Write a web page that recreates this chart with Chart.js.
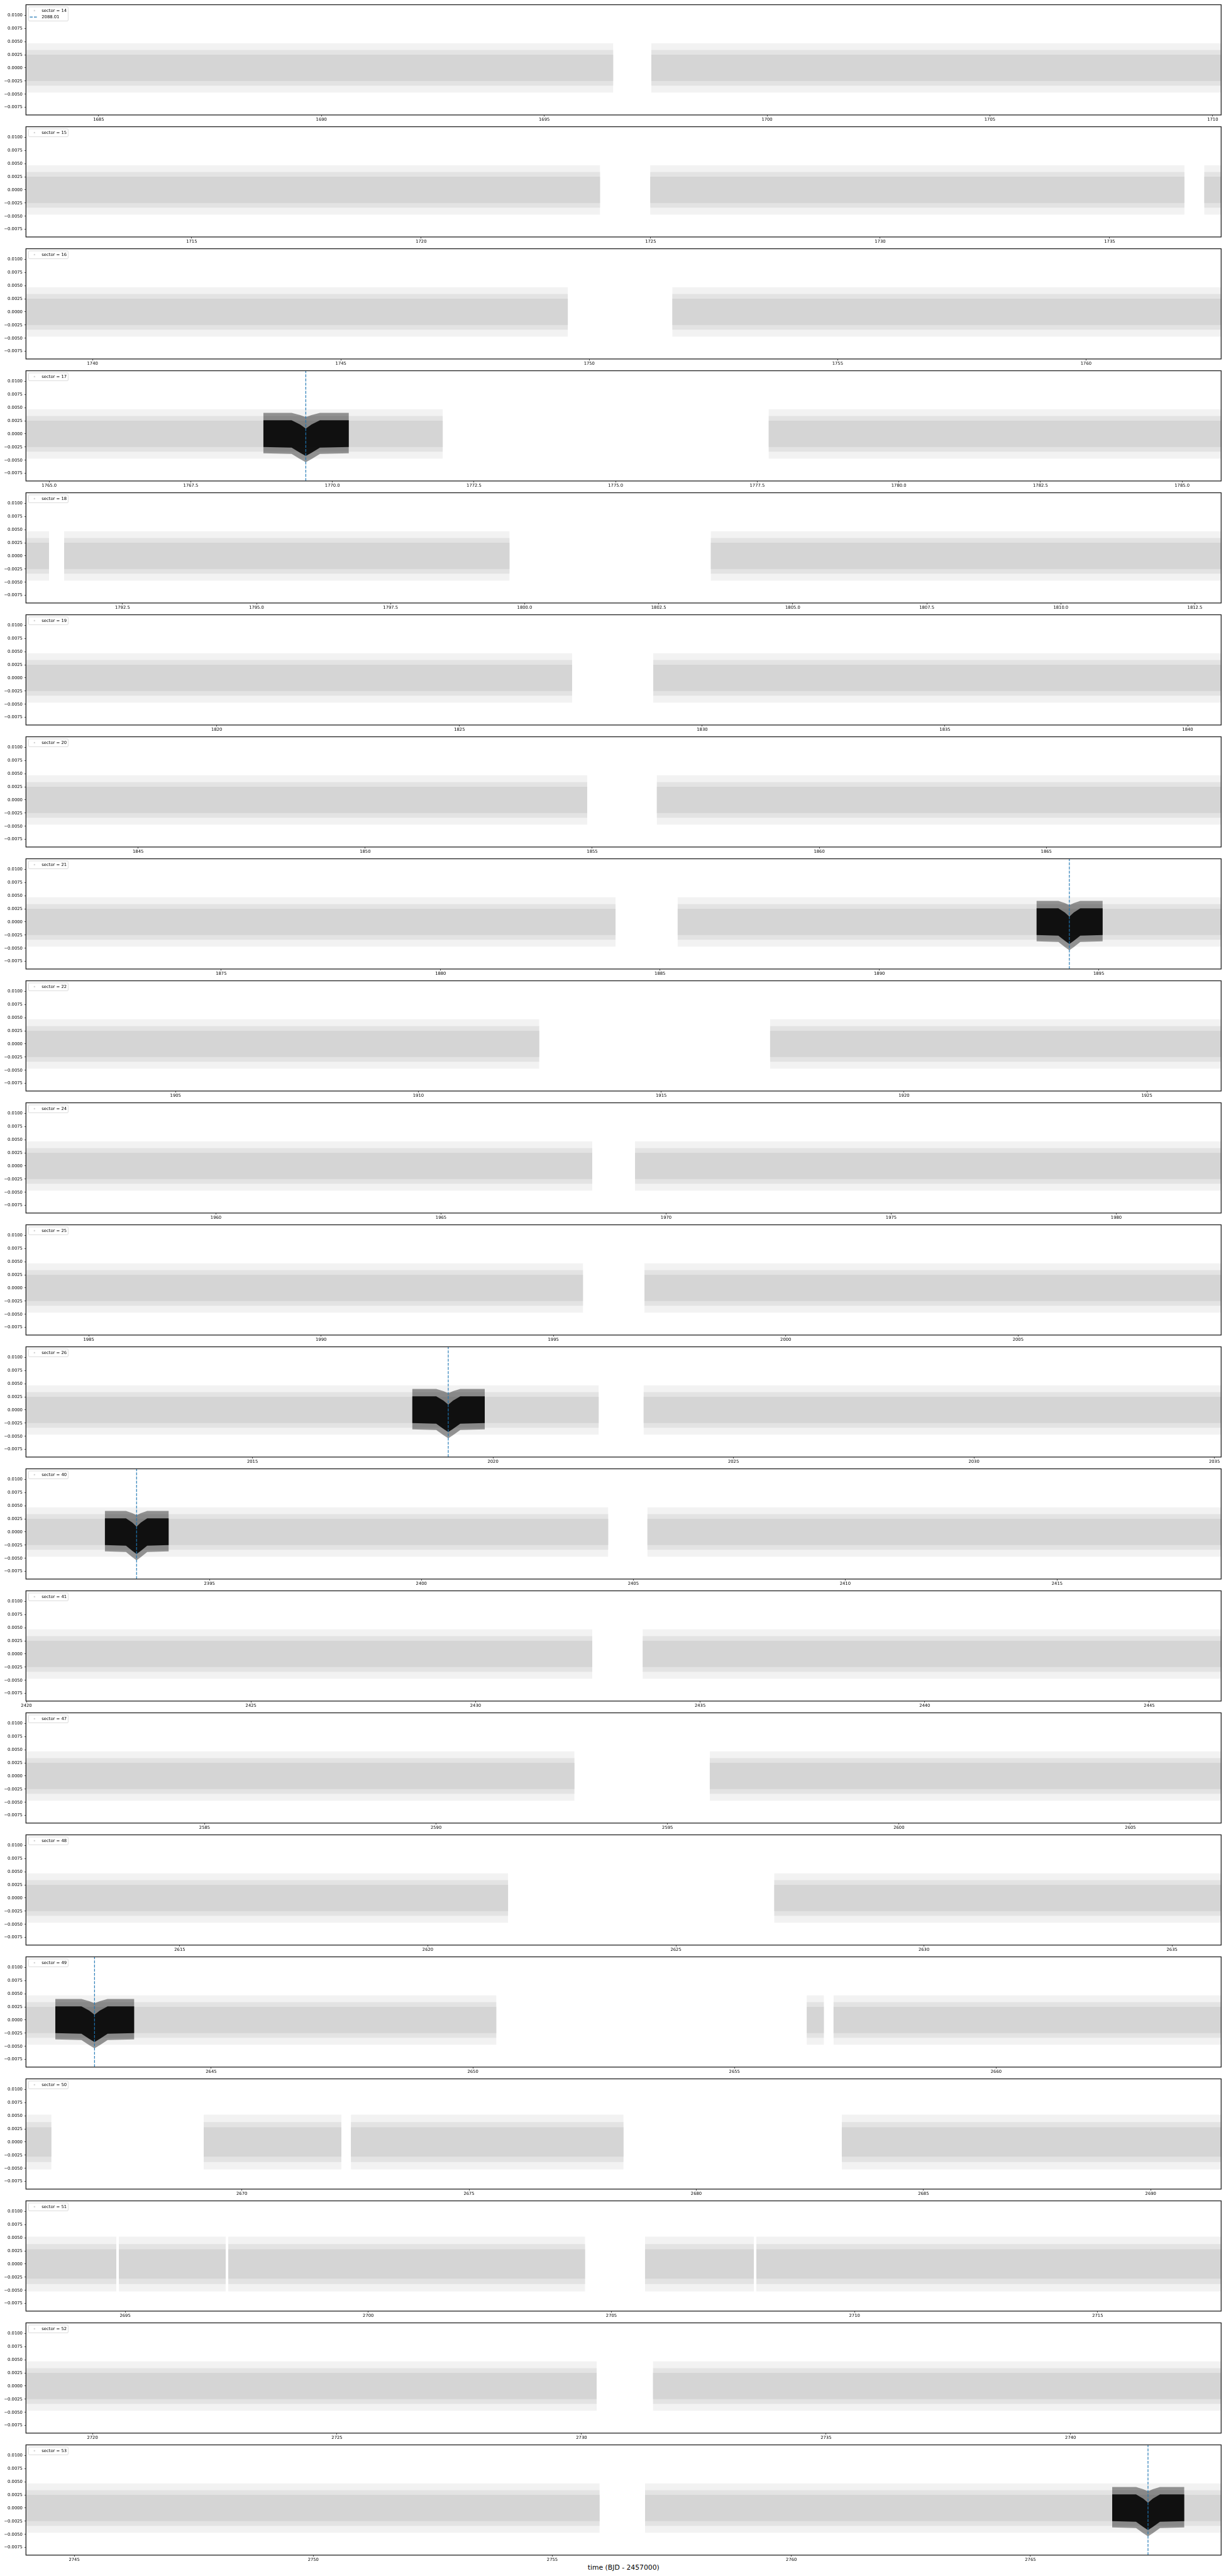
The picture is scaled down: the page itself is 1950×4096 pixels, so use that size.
<!DOCTYPE html>
<html>
<head>
<meta charset="utf-8">
<script src="https://cdn.jsdelivr.net/npm/chart.js@4.4.1/dist/chart.umd.min.js"></script>
<style>
html,body{margin:0;padding:0;background:#fff;}
#wrap{position:relative;width:1950px;height:4096px;overflow:hidden;background:#fff;}
#wrap canvas{position:absolute;left:0;}
#xlabel{position:absolute;left:991.8px;top:4082px;transform:translate(-50%,-50%);font-family:"DejaVu Sans";font-size:10.8px;color:#000;white-space:nowrap;}
</style>
</head>
<body>
<div id="wrap"><div id="xlabel">time (BJD - 2457000)</div></div>
<script>
// ---------------- data ----------------
const sectors = [14,15,16,17,18,19,20,21,22,24,25,26,40,41,47,48,49,50,51,52,53];
const candidateLabel = '2088.01';

const xMins = [1683.37,1711.39,1738.66,1764.59,1790.70,1816.07,1842.53,1870.55,1901.92,1955.78,1983.65,2010.29,2390.67,2419.99,2581.14,2611.90,2641.46,2665.25,2692.96,2718.64,2743.99];
const xMaxs = [1710.19,1737.43,1762.72,1785.69,1812.99,1840.69,1868.85,1897.79,1926.53,1982.33,2009.37,2035.14,2418.87,2446.60,2606.96,2635.99,2664.30,2691.55,2717.54,2743.08,2768.99];

const xTicks = [
  [1685,1690,1695,1700,1705,1710],
  [1715,1720,1725,1730,1735],
  [1740,1745,1750,1755,1760],
  [1765,1767.5,1770,1772.5,1775,1777.5,1780,1782.5,1785],
  [1792.5,1795,1797.5,1800,1802.5,1805,1807.5,1810,1812.5],
  [1820,1825,1830,1835,1840],
  [1845,1850,1855,1860,1865],
  [1875,1880,1885,1890,1895],
  [1905,1910,1915,1920,1925],
  [1960,1965,1970,1975,1980],
  [1985,1990,1995,2000,2005],
  [2015,2020,2025,2030,2035],
  [2395,2400,2405,2410,2415],
  [2420,2425,2430,2435,2440,2445],
  [2585,2590,2595,2600,2605],
  [2615,2620,2625,2630,2635],
  [2645,2650,2655,2660],
  [2670,2675,2680,2685,2690],
  [2695,2700,2705,2710,2715],
  [2720,2725,2730,2735,2740],
  [2745,2750,2755,2760,2765]
];
const xTickDecimals = [0,0,0,1,1,0,0,0,0,0,0,0,0,0,0,0,0,0,0,0,0];

const yMin = -0.00896, yMax = 0.01203;
const yTickValues = [0.0100,0.0075,0.0050,0.0025,0.0000,-0.0025,-0.0050,-0.0075];
const yTickLabels = ['0.0100','0.0075','0.0050','0.0025','0.0000','\u22120.0025','\u22120.0050','\u22120.0075'];

// time ranges covered by data in each sector
const dataSegments = [
  [[1683.37,1696.55],[1697.40,1710.19]],
  [[1711.39,1723.90],[1724.99,1736.63],[1737.06,1737.43]],
  [[1738.66,1749.57],[1751.67,1762.72]],
  [[1764.59,1771.95],[1777.70,1785.69]],
  [[1790.70,1791.13],[1791.41,1799.72],[1803.47,1812.99]],
  [[1816.07,1827.32],[1828.99,1840.69]],
  [[1842.53,1854.89],[1856.42,1868.85]],
  [[1870.55,1883.99],[1885.40,1897.79]],
  [[1901.92,1912.49],[1917.24,1926.53]],
  [[1955.78,1968.36],[1969.31,1982.33]],
  [[1983.65,1995.64],[1996.96,2009.37]],
  [[2010.29,2022.20],[2023.13,2035.14]],
  [[2390.67,2404.41],[2405.33,2418.87]],
  [[2419.99,2432.60],[2433.72,2446.60]],
  [[2581.14,2592.99],[2595.91,2606.96]],
  [[2611.90,2621.62],[2626.98,2635.99]],
  [[2641.46,2650.45],[2656.38,2656.71],[2656.89,2664.30]],
  [[2665.25,2665.81],[2669.16,2672.19],[2672.40,2678.40],[2683.20,2691.55]],
  [[2692.96,2694.82],[2694.87,2697.07],[2697.12,2704.46],[2705.69,2707.93],[2707.98,2717.54]],
  [[2718.64,2730.31],[2731.46,2743.08]],
  [[2743.99,2755.99],[2756.94,2768.99]]
];

// half-widths of the grey point cloud (dense core, mid, sparse outliers)
const grayCoreHalf  = [0.0025,0.0025,0.0025,0.0025,0.0025,0.0025,0.0025,0.0025,0.0025,0.0025,0.0025,0.0025,0.0025,0.0025,0.0025,0.0025,0.0025,0.0028,0.0028,0.0025,0.0025];
const grayMidHalf   = [0.0034,0.0034,0.0034,0.0034,0.0034,0.0034,0.0034,0.0034,0.0034,0.0034,0.0034,0.0034,0.0034,0.0034,0.0034,0.0034,0.0034,0.0038,0.0038,0.0034,0.0034];
const grayOuterHalf = [0.0047,0.0047,0.0047,0.0047,0.0047,0.0047,0.0047,0.0047,0.0047,0.0047,0.0047,0.0047,0.0047,0.0047,0.0047,0.0047,0.0047,0.0052,0.0052,0.0047,0.0047];

// transits of 2088.01 (null where no transit in the sector)
const transitTimes = [null,null,null,1769.53,null,null,null,1894.33,null,null,null,2019.07,2393.28,null,null,null,2642.77,null,null,null,2767.46];
// shape of the black in-transit point cloud (days from mid-transit)
const transitOffsets   = [-0.75,-0.25,-0.10,0.00,0.10,0.25,0.76];
const blackCoreUpper   = [0.0026,0.0026,0.0018,0.0010,0.0018,0.0026,0.0026];
const blackCoreLower   = [-0.0025,-0.0026,-0.0036,-0.0042,-0.0036,-0.0026,-0.0025];
const blackOuterUpper  = [0.0040,0.0040,0.0036,0.0032,0.0036,0.0040,0.0040];
const blackOuterLower  = [-0.0037,-0.0038,-0.0048,-0.0054,-0.0048,-0.0038,-0.0037];

// ---------------- drawing ----------------
const FONT = 'DejaVu Sans';
const PANEL_H = 194;
const TRANSPARENT = 'rgba(0,0,0,0)';

function bandPair(ptsUpper, ptsLower, color, order) {
  return [
    {data: ptsUpper, fill: '+1', backgroundColor: color, borderColor: TRANSPARENT, borderWidth: 0, pointRadius: 0, order},
    {data: ptsLower, fill: false, backgroundColor: TRANSPARENT, borderColor: TRANSPARENT, borderWidth: 0, pointRadius: 0, order}
  ];
}

const framePlugin = {
  id: 'frame',
  afterDatasetsDraw(chart) {
    const a = chart.chartArea, ctx = chart.ctx;
    ctx.save();
    ctx.strokeStyle = '#222';
    ctx.lineWidth = 1.3;
    ctx.setLineDash([]);
    ctx.strokeRect(a.left, a.top, a.right - a.left, a.bottom - a.top);
    ctx.restore();
  }
};

const legendPlugin = {
  id: 'mplLegend',
  afterDraw(chart, args, opts) {
    const entries = opts.entries || [];
    if (!entries.length) return;
    const a = chart.chartArea, ctx = chart.ctx;
    const bx = a.left + 4.1, by = a.top + 3.4, bw = 63;
    const bh = entries.length === 1 ? 12.4 : 22.4;
    ctx.save();
    ctx.beginPath();
    if (ctx.roundRect) ctx.roundRect(bx, by, bw, bh, 1.4); else ctx.rect(bx, by, bw, bh);
    ctx.fillStyle = 'rgba(255,255,255,0.8)';
    ctx.fill();
    ctx.strokeStyle = '#cccccc';
    ctx.lineWidth = 0.7;
    ctx.stroke();
    entries.forEach((e, k) => {
      const cy = by + 6.0 + k * 10.2;
      if (e.type === 'dot') {
        ctx.beginPath();
        ctx.fillStyle = '#d3d3d3';
        ctx.arc(a.left + 13.5, cy, 1.2, 0, Math.PI * 2);
        ctx.fill();
      } else {
        ctx.beginPath();
        ctx.strokeStyle = '#1f77b4';
        ctx.lineWidth = 1.15;
        ctx.setLineDash([4.6, 2.0]);
        ctx.moveTo(a.left + 6.1, cy);
        ctx.lineTo(a.left + 17.6, cy);
        ctx.stroke();
        ctx.setLineDash([]);
      }
      ctx.fillStyle = '#000';
      ctx.font = '6.8px "' + FONT + '"';
      ctx.textBaseline = 'middle';
      ctx.textAlign = 'left';
      ctx.fillText(e.label, a.left + 25, cy + 0.3);
    });
    ctx.restore();
  }
};

const wrap = document.getElementById('wrap');
sectors.forEach((sector, i) => {
  const isLast = i === sectors.length - 1;
  const cv = document.createElement('canvas');
  const h = isLast ? 4096 - i * PANEL_H : PANEL_H;
  cv.width = 1950; cv.height = h;
  cv.style.width = '1950px'; cv.style.height = h + 'px';
  cv.style.top = (i * PANEL_H) + 'px';
  wrap.appendChild(cv);

  const datasets = [];
  const t = transitTimes[i];
  if (t !== null) {
    datasets.push({data: [{x: t, y: yMin}, {x: t, y: yMax}], fill: false, borderColor: '#1f77b4', borderWidth: 1.15, borderDash: [4.6, 2.0], pointRadius: 0, order: 0});
    datasets.push(...bandPair(
      transitOffsets.map((o, k) => ({x: t + o, y: blackCoreUpper[k]})),
      transitOffsets.map((o, k) => ({x: t + o, y: blackCoreLower[k]})),
      'rgba(0,0,0,0.88)', 1));
    datasets.push(...bandPair(
      transitOffsets.map((o, k) => ({x: t + o, y: blackOuterUpper[k]})),
      transitOffsets.map((o, k) => ({x: t + o, y: blackOuterLower[k]})),
      'rgba(0,0,0,0.40)', 2));
  }
  const layers = [[grayCoreHalf[i], '#d5d5d5', 3], [grayMidHalf[i], '#e3e3e3', 4], [grayOuterHalf[i], '#f2f2f2', 5]];
  layers.forEach(([half, color, order]) => {
    dataSegments[i].forEach(([s, e]) => {
      datasets.push(...bandPair([{x: s, y: half}, {x: e, y: half}], [{x: s, y: -half}, {x: e, y: -half}], color, order));
    });
  });

  const entries = [{type: 'dot', label: 'sector = ' + sector}];
  if (i === 0) entries.push({type: 'dash', label: candidateLabel});

  const tickFont = {family: FONT, size: 6.8};
  const gridOpts = {display: true, drawOnChartArea: false, drawTicks: true, tickLength: 2.4, tickWidth: 0.8, tickColor: '#222', color: '#222'};

  new Chart(cv, {
    type: 'line',
    data: {datasets},
    options: {
      responsive: false,
      animation: false,
      devicePixelRatio: 1,
      events: [],
      layout: {padding: {top: 7.5, right: 7.7, left: 0, bottom: isLast ? h - PANEL_H : 0}},
      elements: {point: {radius: 0}, line: {tension: 0}},
      plugins: {legend: {display: false}, tooltip: {enabled: false}, mplLegend: {entries}},
      scales: {
        x: {
          type: 'linear', min: xMins[i], max: xMaxs[i],
          afterBuildTicks: s => { s.ticks = xTicks[i].map(v => ({value: v})); },
          afterFit: s => { s.height = 11.2; },
          ticks: {autoSkip: false, maxRotation: 0, minRotation: 0, padding: 1, color: '#000', font: tickFont,
                  callback: v => Number(v).toFixed(xTickDecimals[i])},
          grid: gridOpts,
          border: {display: false}
        },
        y: {
          type: 'linear', min: yMin, max: yMax,
          afterBuildTicks: s => { s.ticks = yTickValues.map(v => ({value: v})); },
          afterFit: s => { s.width = 41.3; },
          ticks: {autoSkip: false, padding: 3, color: '#000', font: tickFont,
                  callback: (v, idx) => yTickLabels[idx]},
          grid: gridOpts,
          border: {display: false}
        }
      }
    },
    plugins: [framePlugin, legendPlugin]
  });
});
</script>
</body>
</html>
